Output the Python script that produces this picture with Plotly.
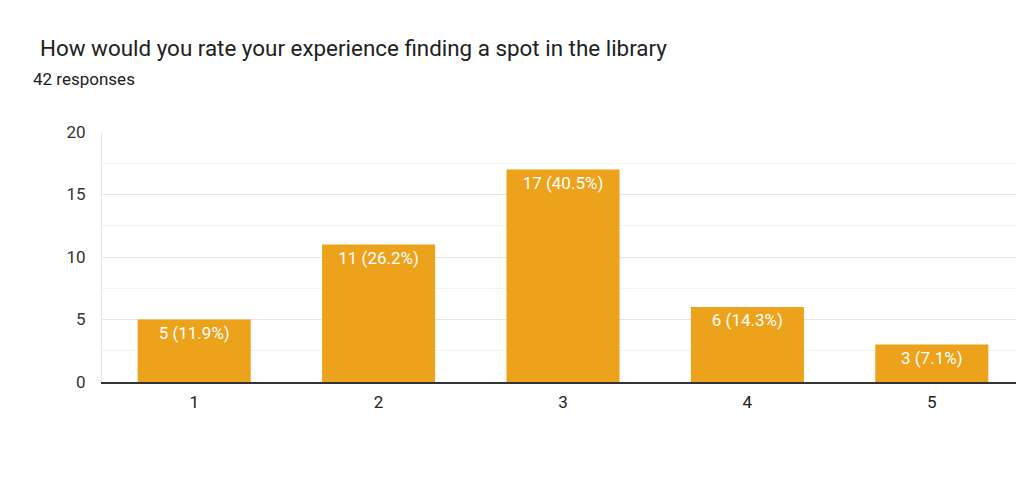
import plotly.graph_objects as go

categories = ["1", "2", "3", "4", "5"]
counts = [5, 11, 17, 6, 3]
total = 42
labels = [f"{c} ({c / total * 100:.1f}%)" for c in counts]
y_ticks = [0, 5, 10, 15, 20]

# figure-space layout (page body has 8px margin)
L, T, R, B = 94, 124, 1016, 374
W, H = 1016, 478
PW, PH = R - L, B - T

fig = go.Figure(go.Bar(
    x=categories,
    y=counts,
    text=labels,
    textposition="inside",
    insidetextanchor="end",
    textangle=0,
    textfont=dict(family="Roboto, Arial, sans-serif", size=17, color="white"),
    marker=dict(color="#eca21b", line=dict(width=0)),
    width=0.613,
    hoverinfo="x+y",
))

fig.update_layout(
    width=W, height=H,
    margin=dict(l=L, r=W - R, t=T, b=H - B, autoexpand=False),
    paper_bgcolor="white", plot_bgcolor="white",
    font=dict(family="Roboto, Arial, sans-serif", color="#222222"),
    showlegend=False,
    uniformtext=dict(minsize=17, mode="show"),
)
fig.add_annotation(
    text="How would you rate your experience finding a spot in the library",
    xref="paper", yref="paper", x=(30 - L) / PW, y=(B - 40) / PH,
    xanchor="left", yanchor="middle", showarrow=False,
    font=dict(size=22.4, color="#212121"),
)
fig.add_annotation(
    text="42 responses",
    xref="paper", yref="paper", x=(23 - L) / PW, y=(B - 71) / PH,
    xanchor="left", yanchor="middle", showarrow=False,
    font=dict(size=17, color="#212121"),
)

fig.update_xaxes(
    showgrid=False, showline=True, linecolor="#333333", linewidth=1.5,
    tickfont=dict(size=17, color="#222222"), ticks="", ticklabelstandoff=4,
    zeroline=False,
)
fig.update_yaxes(
    range=[0, 20], tickvals=y_ticks, showgrid=True, gridcolor="#e6e6e6",
    gridwidth=1, showline=True, linecolor="#e6e6e6", zeroline=False,
    tickfont=dict(size=17, color="#333333"), ticks="", ticklabelstandoff=12,
    minor=dict(dtick=2.5, tick0=0, showgrid=True, gridcolor="#f3f3f3", gridwidth=1),
)

fig.write_html("out.html")
